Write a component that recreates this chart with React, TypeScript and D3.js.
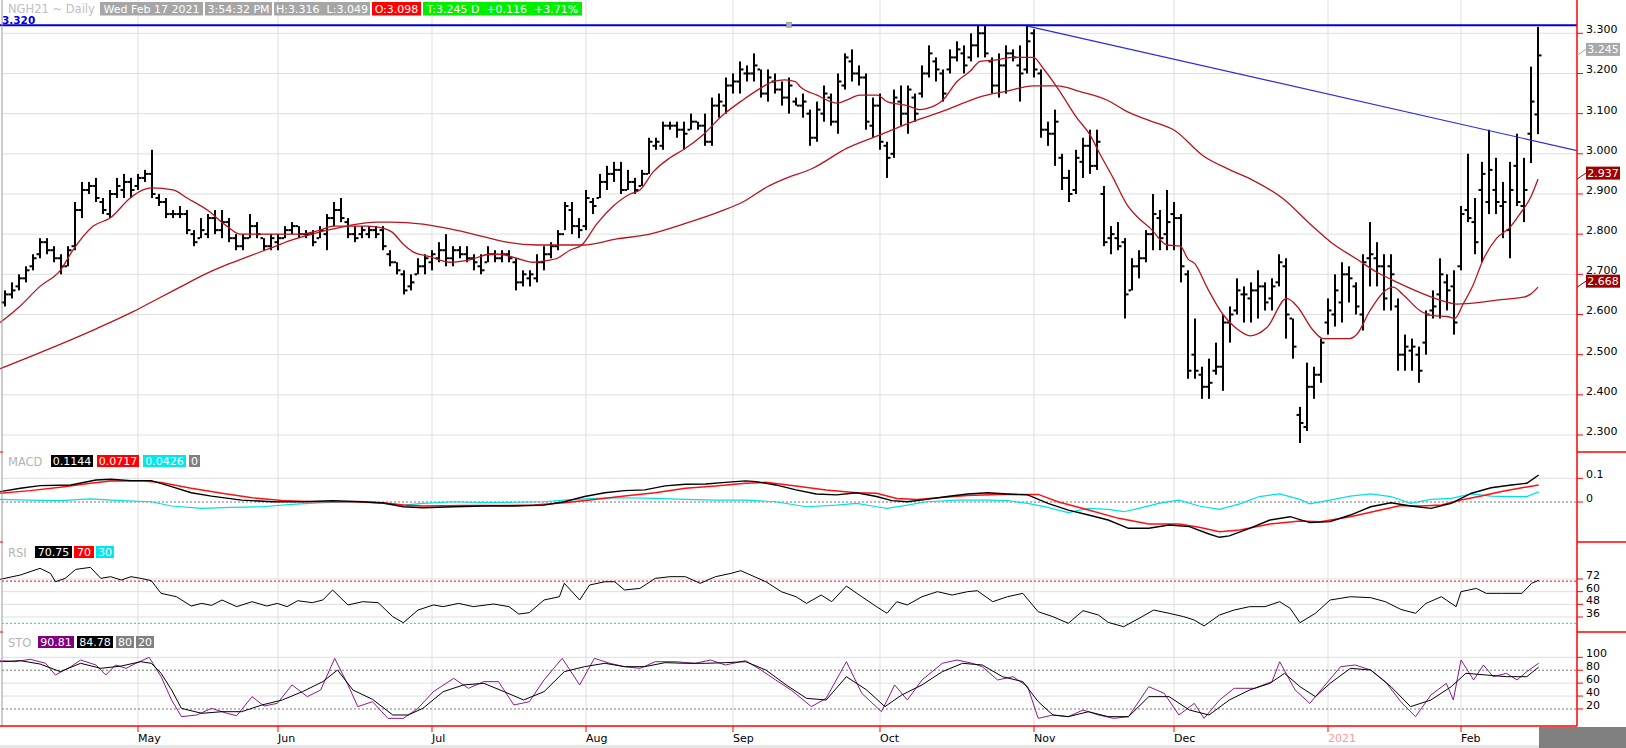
import React from "react";
import * as d3 from "d3";

// ---- price bars (NGH21 daily, Apr 2020 - Feb 17 2021) ----
const highs = [
  2.66, 2.68, 2.7, 2.72, 2.75, 2.79, 2.79, 2.77, 2.75, 2.77,
  2.88, 2.93, 2.93, 2.94, 2.89, 2.91, 2.94, 2.95, 2.94, 2.95,
  2.96, 3.01, 2.9, 2.89, 2.86, 2.87, 2.86, 2.81, 2.84, 2.85,
  2.86, 2.86, 2.84, 2.8, 2.8, 2.85, 2.83, 2.79, 2.8, 2.8,
  2.82, 2.83, 2.82, 2.81, 2.81, 2.82, 2.85, 2.88, 2.89, 2.84,
  2.82, 2.82, 2.82, 2.82, 2.82, 2.76, 2.73, 2.71, 2.7, 2.74,
  2.75, 2.76, 2.78, 2.8, 2.77, 2.77, 2.77, 2.75, 2.75, 2.77,
  2.76, 2.76, 2.76, 2.74, 2.71, 2.71, 2.75, 2.77, 2.78, 2.81,
  2.88, 2.88, 2.84, 2.91, 2.89, 2.95, 2.97, 2.98, 2.98, 2.96,
  2.94, 2.96, 3.04, 3.04, 3.08, 3.08, 3.08, 3.08, 3.1, 3.08,
  3.1, 3.14, 3.15, 3.19, 3.2, 3.23, 3.22, 3.25, 3.21, 3.21,
  3.2, 3.18, 3.19, 3.14, 3.15, 3.11, 3.13, 3.17, 3.15, 3.2,
  3.25, 3.26, 3.22, 3.2, 3.14, 3.15, 3.03, 3.16, 3.17, 3.17,
  3.15, 3.22, 3.27, 3.24, 3.21, 3.26, 3.28, 3.27, 3.3, 3.32,
  3.32, 3.24, 3.25, 3.27, 3.26, 3.27, 3.32, 3.31, 3.21, 3.08,
  3.11, 3.0, 2.96, 3.01, 3.04, 3.06, 3.06, 2.92, 2.82, 2.83,
  2.79, 2.74, 2.76, 2.81, 2.9, 2.86, 2.91, 2.88, 2.85, 2.71,
  2.59, 2.47, 2.49, 2.53, 2.6, 2.62, 2.69, 2.67, 2.68, 2.71,
  2.68, 2.69, 2.75, 2.74, 2.59, 2.37, 2.48, 2.47, 2.54, 2.64,
  2.7, 2.73, 2.72, 2.68, 2.75, 2.83, 2.78, 2.75, 2.75, 2.64,
  2.55, 2.54, 2.52, 2.61, 2.66, 2.74, 2.7, 2.71, 2.87, 3.0,
  2.89, 2.98, 3.06, 2.99, 2.93, 2.98, 3.05, 2.99, 3.217, 3.316,
];
const lows = [
  2.62, 2.64, 2.66, 2.68, 2.71, 2.74, 2.75, 2.73, 2.7, 2.72,
  2.76, 2.84, 2.9, 2.88, 2.85, 2.84, 2.89, 2.89, 2.89, 2.91,
  2.93, 2.89, 2.87, 2.84, 2.84, 2.84, 2.8, 2.77, 2.79, 2.79,
  2.8, 2.79, 2.78, 2.76, 2.76, 2.79, 2.79, 2.76, 2.76, 2.76,
  2.79, 2.8, 2.79, 2.79, 2.77, 2.79, 2.76, 2.82, 2.83, 2.79,
  2.78, 2.79, 2.79, 2.79, 2.76, 2.72, 2.7, 2.65, 2.66, 2.7,
  2.7, 2.71, 2.73, 2.72, 2.72, 2.74, 2.73, 2.71, 2.7, 2.73,
  2.73, 2.73, 2.73, 2.66, 2.67, 2.67, 2.68, 2.71, 2.74, 2.76,
  2.81, 2.8, 2.79, 2.81, 2.85, 2.89, 2.91, 2.93, 2.9, 2.91,
  2.9, 2.92, 2.95, 3.01, 3.01, 3.06, 3.04, 3.01, 3.06, 3.06,
  3.02, 3.02, 3.09, 3.1, 3.15, 3.15, 3.18, 3.18, 3.14, 3.13,
  3.15, 3.12, 3.1, 3.12, 3.09, 3.02, 3.03, 3.08, 3.07, 3.05,
  3.16, 3.18, 3.17, 3.06, 3.04, 3.01, 2.94, 2.99, 3.07, 3.05,
  3.08, 3.14, 3.19, 3.18, 3.13, 3.2, 3.23, 3.2, 3.23, 3.24,
  3.24, 3.15, 3.14, 3.15, 3.23, 3.13, 3.2, 3.19, 3.04, 3.02,
  2.97, 2.91, 2.88, 2.9, 2.94, 2.95, 2.96, 2.77, 2.75, 2.76,
  2.59, 2.66, 2.69, 2.73, 2.76, 2.76, 2.76, 2.76, 2.68, 2.44,
  2.44, 2.39, 2.39, 2.45, 2.41, 2.53, 2.6, 2.58, 2.58, 2.59,
  2.61, 2.61, 2.67, 2.54, 2.49, 2.28, 2.31, 2.39, 2.43, 2.55,
  2.57, 2.58, 2.63, 2.6, 2.56, 2.67, 2.67, 2.61, 2.61, 2.46,
  2.46, 2.46, 2.43, 2.5, 2.59, 2.59, 2.61, 2.55, 2.71, 2.83,
  2.75, 2.73, 2.85, 2.85, 2.79, 2.74, 2.87, 2.83, 2.977, 3.049,
];
const opens = [
  2.63, 2.65, 2.67, 2.69, 2.72, 2.75, 2.78, 2.76, 2.74, 2.72,
  2.77, 2.86, 2.91, 2.92, 2.88, 2.85, 2.9, 2.91, 2.93, 2.92,
  2.94, 2.95, 2.89, 2.88, 2.85, 2.85, 2.85, 2.8, 2.79, 2.8,
  2.84, 2.81, 2.83, 2.79, 2.77, 2.79, 2.82, 2.79, 2.77, 2.78,
  2.79, 2.81, 2.82, 2.8, 2.8, 2.79, 2.8, 2.84, 2.86, 2.83,
  2.8, 2.8, 2.8, 2.81, 2.81, 2.75, 2.73, 2.7, 2.67, 2.7,
  2.72, 2.73, 2.74, 2.76, 2.74, 2.76, 2.75, 2.74, 2.72, 2.73,
  2.75, 2.74, 2.75, 2.73, 2.68, 2.69, 2.69, 2.73, 2.75, 2.77,
  2.8, 2.86, 2.82, 2.82, 2.88, 2.89, 2.93, 2.95, 2.96, 2.91,
  2.93, 2.92, 2.95, 3.02, 3.02, 3.07, 3.07, 3.06, 3.06, 3.08,
  3.07, 3.03, 3.12, 3.12, 3.17, 3.18, 3.2, 3.2, 3.21, 3.15,
  3.18, 3.16, 3.14, 3.13, 3.12, 3.1, 3.04, 3.1, 3.14, 3.08,
  3.17, 3.23, 3.2, 3.19, 3.07, 3.12, 3.02, 3.0, 3.13, 3.1,
  3.14, 3.15, 3.2, 3.23, 3.2, 3.21, 3.24, 3.25, 3.24, 3.27,
  3.3, 3.23, 3.17, 3.22, 3.25, 3.22, 3.21, 3.3, 3.2, 3.06,
  3.05, 2.99, 2.94, 2.91, 2.98, 3.02, 2.97, 2.9, 2.79, 2.79,
  2.78, 2.66, 2.72, 2.74, 2.8, 2.84, 2.8, 2.85, 2.84, 2.7,
  2.5, 2.45, 2.42, 2.46, 2.47, 2.58, 2.61, 2.65, 2.64, 2.66,
  2.67, 2.64, 2.68, 2.72, 2.59, 2.35, 2.32, 2.42, 2.45, 2.58,
  2.6, 2.63, 2.7, 2.67, 2.6, 2.74, 2.74, 2.72, 2.72, 2.62,
  2.5, 2.51, 2.5, 2.53, 2.61, 2.65, 2.68, 2.67, 2.72, 2.86,
  2.83, 2.91, 2.88, 2.91, 2.87, 2.81, 2.97, 2.87, 3.05, 3.098,
];
const closes = [
  2.65, 2.66, 2.69, 2.71, 2.74, 2.78, 2.76, 2.74, 2.72, 2.76,
  2.86, 2.91, 2.92, 2.89, 2.86, 2.9, 2.92, 2.93, 2.91, 2.94,
  2.95, 2.9, 2.88, 2.85, 2.85, 2.85, 2.81, 2.78, 2.81, 2.84,
  2.81, 2.83, 2.79, 2.77, 2.79, 2.82, 2.8, 2.77, 2.79, 2.79,
  2.81, 2.82, 2.8, 2.8, 2.78, 2.81, 2.84, 2.86, 2.84, 2.8,
  2.79, 2.81, 2.81, 2.8, 2.77, 2.73, 2.71, 2.66, 2.68, 2.72,
  2.74, 2.75, 2.76, 2.74, 2.76, 2.75, 2.74, 2.73, 2.71, 2.75,
  2.74, 2.75, 2.74, 2.68, 2.7, 2.7, 2.73, 2.75, 2.77, 2.8,
  2.87, 2.82, 2.81, 2.89, 2.87, 2.93, 2.95, 2.96, 2.91, 2.93,
  2.91, 2.95, 3.03, 3.03, 3.07, 3.07, 3.06, 3.05, 3.08, 3.07,
  3.03, 3.12, 3.13, 3.17, 3.18, 3.21, 3.2, 3.22, 3.15, 3.19,
  3.16, 3.14, 3.17, 3.12, 3.13, 3.04, 3.11, 3.15, 3.08, 3.18,
  3.24, 3.2, 3.19, 3.08, 3.12, 3.03, 2.99, 3.14, 3.1, 3.16,
  3.1, 3.2, 3.25, 3.21, 3.15, 3.24, 3.26, 3.22, 3.27, 3.3,
  3.25, 3.17, 3.22, 3.25, 3.24, 3.2, 3.28, 3.21, 3.06, 3.05,
  3.08, 2.94, 2.9, 2.99, 3.02, 2.97, 3.03, 2.78, 2.8, 2.77,
  2.65, 2.72, 2.74, 2.8, 2.85, 2.79, 2.83, 2.84, 2.72, 2.46,
  2.46, 2.42, 2.43, 2.47, 2.58, 2.6, 2.66, 2.65, 2.66, 2.67,
  2.63, 2.67, 2.73, 2.6, 2.52, 2.33, 2.42, 2.45, 2.53, 2.61,
  2.66, 2.7, 2.69, 2.62, 2.73, 2.75, 2.72, 2.64, 2.7, 2.5,
  2.52, 2.52, 2.46, 2.6, 2.62, 2.7, 2.66, 2.58, 2.85, 2.84,
  2.78, 2.95, 2.96, 2.88, 2.88, 2.91, 2.88, 2.91, 3.13, 3.245,
];

// moving averages, [bar index, value]
const shortMa = [
  [-0.7, 2.58], [2.1, 2.62], [5, 2.67], [7.9, 2.71], [9.7, 2.76], [12.6, 2.82], [15, 2.84],
  [17.9, 2.89], [19.7, 2.91], [21, 2.915], [24, 2.91], [26, 2.89], [28.9, 2.86], [31.7, 2.82],
  [33.6, 2.8], [36.4, 2.8], [39.3, 2.8], [42.1, 2.8], [45, 2.81], [46.9, 2.82], [51.7, 2.82],
  [54, 2.815], [55.3, 2.805], [56.9, 2.775], [58.3, 2.756], [60.7, 2.744], [63.6, 2.73],
  [66.4, 2.736], [69.3, 2.75], [70.7, 2.75], [73.1, 2.74], [75.4, 2.73], [76.9, 2.733],
  [78.9, 2.74], [80.7, 2.76], [82.4, 2.773], [84.6, 2.827], [86.9, 2.87], [89.3, 2.9],
  [90.7, 2.91], [92.6, 2.955], [95, 2.99], [96.9, 3.01], [99.7, 3.047], [102.6, 3.097],
  [105.4, 3.134], [107.9, 3.163], [109.7, 3.18], [111.4, 3.184], [112.9, 3.18], [113.6, 3.167],
  [116, 3.146], [118.9, 3.126], [120.3, 3.134], [122.1, 3.146], [124.6, 3.146], [126, 3.13],
  [128.9, 3.12], [130.7, 3.11], [132.1, 3.115], [134, 3.134], [136, 3.18], [137.9, 3.206],
  [139.3, 3.23], [141.7, 3.234], [144, 3.24], [146.9, 3.24], [148.3, 3.213], [150.7, 3.155],
  [153.1, 3.09], [155, 3.047], [156.4, 3.0], [158.3, 2.94], [160.3, 2.873], [161.7, 2.844],
  [163.6, 2.815], [166, 2.773], [167.9, 2.77], [169, 2.738], [170, 2.726], [171.7, 2.668],
  [174, 2.6], [176, 2.564], [177.9, 2.547], [180.3, 2.568], [183.1, 2.64], [184.6, 2.62],
  [186.9, 2.56], [188.3, 2.54], [192.1, 2.54], [193.1, 2.55], [195, 2.61], [196.9, 2.655],
  [198.3, 2.668], [199.7, 2.65], [202.1, 2.61], [204, 2.597], [206, 2.595], [207.1, 2.59],
  [208.3, 2.626], [209.7, 2.672], [211.1, 2.734], [213.1, 2.79], [215, 2.817], [216.4, 2.85],
  [217.9, 2.89], [219, 2.937],
];
const longMa = [
  [-0.7, 2.465], [6.4, 2.515], [13.1, 2.565], [18.3, 2.607], [21.7, 2.638], [25, 2.668],
  [28.3, 2.698], [31.7, 2.724], [35, 2.746], [37.9, 2.765], [40.7, 2.784], [43.6, 2.799],
  [46.9, 2.813], [49.3, 2.822], [53.1, 2.83], [55, 2.83], [59.7, 2.825], [63.6, 2.813],
  [68.3, 2.794], [71.7, 2.78], [76, 2.773], [79.7, 2.773], [82.6, 2.773], [87.4, 2.788],
  [92.1, 2.8], [96.9, 2.825], [102.1, 2.856], [105.4, 2.88], [108.9, 2.918], [111.4, 2.938],
  [115.4, 2.964], [120.3, 3.014], [125, 3.047], [129.7, 3.08], [134.6, 3.11], [139.3, 3.142],
  [143.1, 3.156], [146.9, 3.169], [150.3, 3.169], [153.6, 3.155], [157.4, 3.134],
  [160.3, 3.105], [163.6, 3.082], [167.1, 3.058], [171.1, 2.996], [175, 2.96], [178.3, 2.934],
  [182.6, 2.888], [186.4, 2.826], [189.7, 2.776], [193.1, 2.738], [196, 2.705], [198.9, 2.68],
  [202.1, 2.655], [205, 2.636], [207.4, 2.626], [210.7, 2.63], [213.1, 2.636], [216.9, 2.643],
  [217.9, 2.65], [219, 2.668],
];
const trendLine = [[146.1, 3.318], [224.6, 3.008]];
const resistance = 3.32;

// MACD panel
const macdLine = [
  [-0.7, 0.044], [2.2, 0.058], [5, 0.069], [9.4, 0.072], [13, 0.093], [15.1, 0.096], [18, 0.09],
  [20.9, 0.09], [23.8, 0.065], [26.6, 0.039], [29.5, 0.025], [33.8, 0.008], [38.2, 0.001],
  [42.5, 0.001], [46.8, 0.006], [51.1, 0.001], [54, -0.004], [56.9, -0.02], [59.7, -0.024],
  [64.1, -0.02], [68.4, -0.017], [72.7, -0.017], [77, -0.013], [79.9, 0.001], [82.8, 0.023],
  [85.7, 0.039], [88.5, 0.048], [91.4, 0.051], [94.3, 0.068], [97.2, 0.075], [100.1, 0.076],
  [102.9, 0.083], [105.8, 0.089], [107.3, 0.086], [110.1, 0.072], [113, 0.051], [115.9, 0.034],
  [118.8, 0.03], [121.7, 0.039], [124.5, 0.023], [126.7, 0.006], [128.9, 0.001], [131.7, 0.011],
  [134.6, 0.023], [137.5, 0.034], [140.4, 0.039], [143.2, 0.034], [146.1, 0.03], [149, -0.006],
  [151.9, -0.034], [154.8, -0.055], [157.6, -0.076], [160.5, -0.111], [163.4, -0.111],
  [166.3, -0.097], [169.2, -0.104], [172, -0.135], [173.5, -0.149], [174.9, -0.143],
  [177.8, -0.111], [180.7, -0.076], [183.6, -0.062], [186.4, -0.087], [189.3, -0.083],
  [192.2, -0.055], [195.1, -0.02], [198, -0.003], [200.8, -0.017], [203.7, -0.027],
  [206.6, -0.006], [209.5, 0.037], [212.3, 0.06], [215.2, 0.072], [217.4, 0.079], [219.1, 0.114],
];
const macdSignal = [
  [-0.7, 0.037], [3.6, 0.048], [7.9, 0.062], [12.2, 0.079], [15.1, 0.089], [19.4, 0.09],
  [22.3, 0.082], [26.6, 0.058], [31, 0.037], [35.3, 0.018], [39.6, 0.006], [43.9, 0.001],
  [49.7, 0.001], [54, -0.003], [56.9, -0.013], [59.7, -0.017], [65.5, -0.015], [71.3, -0.015],
  [75.6, -0.013], [79.9, -0.003], [84.2, 0.011], [88.5, 0.025], [92.9, 0.039], [97.2, 0.058],
  [101.5, 0.068], [105.8, 0.079], [108.7, 0.083], [113, 0.068], [117.3, 0.051], [121.7, 0.039],
  [124.5, 0.037], [127.4, 0.015], [130.3, 0.011], [133.2, 0.018], [137.5, 0.027], [141.8, 0.032],
  [147.6, 0.032], [150.4, 0.001], [154.8, -0.034], [159.1, -0.069], [163.4, -0.093],
  [167.7, -0.093], [170.6, -0.107], [173.5, -0.125], [176.4, -0.118], [180.7, -0.093],
  [185, -0.08], [187.9, -0.083], [192.2, -0.062], [196.5, -0.034], [199.4, -0.015],
  [202.3, -0.017], [205.2, -0.013], [208, 0.008], [210.9, 0.025], [213.8, 0.044], [216.7, 0.06],
  [219.1, 0.0717],
];
const macdDiff = [
  [-0.7, 0.011], [3.6, 0.008], [7.9, 0.006], [12.2, 0.013], [16.6, 0.006], [20.9, 0.001],
  [23.8, -0.017], [28.1, -0.027], [32.4, -0.023], [36.7, -0.02], [41, -0.01], [45.4, -0.003],
  [49.7, 0], [54, -0.006], [56.9, -0.013], [59.7, -0.006], [64.1, 0.001], [68.4, -0.003],
  [72.7, -0.001], [77, 0.001], [79.9, 0.008], [84.2, 0.015], [88.5, 0.018], [92.9, 0.015],
  [97.2, 0.011], [101.5, 0.008], [105.8, 0.008], [110.1, 0.001], [114.5, -0.02], [118.8, -0.013],
  [121.7, -0.006], [124.5, -0.02], [126, -0.027], [128.9, -0.013], [131.7, 0.001], [136, 0.008],
  [140.4, 0.008], [143.2, 0.006], [146.1, -0.006], [149, -0.023], [151.9, -0.045],
  [154.8, -0.027], [157.6, -0.031], [159.8, -0.041], [162, -0.027], [164.8, -0.006],
  [167.7, 0.008], [170.6, -0.017], [173.5, -0.031], [176.4, -0.008], [179.2, 0.023],
  [182.1, 0.034], [185, 0.011], [186.4, -0.008], [189.3, 0.008], [192.2, 0.025], [195.1, 0.034],
  [198, 0.023], [200.8, -0.006], [203.7, 0.011], [206.6, 0.015], [209.5, 0.034], [212.3, 0.025],
  [215.2, 0.023], [217.4, 0.023], [219.1, 0.0426],
];

// RSI panel
const rsiLine = [
  [-0.7, 71.7], [2.2, 75.8], [5, 82.1], [6.5, 77.3], [7.2, 69.4], [8.6, 72.6], [10.1, 81.1],
  [12.2, 83], [13.7, 72.6], [15.1, 74.2], [16.6, 71], [18, 74.2], [19.4, 72.6], [20.9, 70.4],
  [22.3, 58.4], [24.5, 55.2], [26.6, 46.4], [28.1, 48.9], [29.5, 47], [31, 52.1], [33.1, 45.8],
  [35.3, 50.5], [37.4, 46.4], [38.9, 48.9], [40.3, 45.8], [41.8, 51.4], [43.9, 49.6],
  [45.4, 52.1], [46.8, 61.6], [49, 47.4], [51.1, 50.5], [53.3, 49.6], [55.4, 36.3], [56.9, 30.6],
  [59, 42.6], [61.2, 47.4], [62.6, 45.8], [64.8, 48.9], [66.9, 45.8], [69.8, 48.3], [72, 45.8],
  [73.4, 38.8], [74.9, 40.1], [77, 52.1], [79.2, 55.2], [79.9, 67.9], [82.1, 52.1], [83.5, 66.3],
  [85.7, 69.4], [87.1, 69.4], [88.5, 61.6], [90.7, 63.1], [92.9, 72.6], [95, 74.2], [97.2, 74.2],
  [99.3, 67.9], [101.5, 74.2], [103.7, 77.3], [105.1, 79.9], [106.5, 75.8], [108.7, 69.4],
  [110.9, 60], [113, 55.2], [114.5, 48.9], [116.6, 56.8], [118.1, 50.5], [120.2, 65.3],
  [122.4, 55.2], [124.5, 45.8], [126, 39.5], [127.4, 50.5], [128.9, 47.4], [131, 55.2],
  [133.2, 60], [135.3, 56.8], [137.5, 60], [138.9, 60.9], [141.1, 50.5], [143.2, 55.2],
  [145.4, 58.4], [147.6, 41], [149.7, 36.3], [151.9, 30], [154, 42], [156.2, 37.9], [157.6, 30.9],
  [159.8, 26.8], [162, 34.7], [164.1, 42.6], [166.3, 39.5], [168.4, 36.3], [169.9, 33.1],
  [171.3, 27.5], [173.5, 37.9], [175.6, 42.6], [177.8, 45.8], [180, 45.8], [182.1, 50.5],
  [183.6, 44.2], [185, 30.6], [187.2, 39.5], [189.3, 52.1], [192.2, 55.2], [195.1, 54.3],
  [197.2, 50.5], [199.4, 43.2], [201.5, 39.5], [203, 48.9], [205.2, 55.2], [207.3, 45.8],
  [208, 60], [210.2, 63.1], [211.6, 58.4], [213.8, 58.4], [216.7, 58.4], [218.1, 67.9],
  [219.1, 70.75],
];

// Stochastics panel
const stoK = [
  [-0.7, 94.8], [1.4, 93.2], [3.6, 96.9], [5.8, 90.7], [7.2, 72.6], [9.4, 85.5], [10.8, 95.8],
  [13, 88.1], [14.4, 72.6], [15.8, 88.1], [17.3, 82.9], [18.7, 90.7], [20.6, 100], [22.3, 70],
  [23.8, 33.9], [25.2, 8.1], [27.4, 10.7], [29.5, 21], [31.7, 13.3], [33.1, 9.6], [35.3, 39.1],
  [37, 24.6], [38.9, 28.7], [41, 57.2], [43.2, 39.1], [45.1, 49.4], [47.1, 98.4], [49, 57.2],
  [50.4, 23.6], [52.5, 31.3], [54.7, 5.5], [56.9, 5.5], [59, 21], [61.2, 46.8], [64.1, 67.4],
  [66.2, 52], [68.4, 62.3], [70.5, 62.3], [72.7, 26.2], [74.9, 31.3], [77, 64.9], [79.6, 98.4],
  [82.1, 57.2], [84.2, 98.4], [86.4, 90.7], [88.5, 85.5], [90.7, 82.9], [92.9, 93.2],
  [95.7, 93.2], [98.6, 90.7], [100.8, 95.8], [102.9, 88.1], [105.8, 94.8], [108, 80.3],
  [110.1, 64.9], [112.3, 49.4], [115.2, 23.6], [117.3, 36.5], [120.2, 93.2], [122.4, 44.2],
  [125.2, 15.8], [127.1, 57.2], [128.9, 33.9], [131, 64.9], [133.9, 90.7], [136, 95.8],
  [138.2, 90.7], [139.6, 85.5], [141.8, 64.9], [144, 70], [146.1, 54.5], [147.6, 5.5],
  [149.7, 10.7], [151.9, 8.1], [154, 18.4], [156.2, 10.7], [158.4, 5.5], [160.5, 8.1],
  [163.4, 54.5], [165.6, 44.2], [167.7, 10.7], [169.9, 28.7], [171.3, 5.5], [173.5, 33.9],
  [175.6, 52], [178.5, 52], [181, 62.3], [182.1, 93.2], [184.3, 49.4], [186.4, 28.7],
  [188.6, 57.2], [190.8, 85.5], [192.9, 88.1], [195.1, 80.3], [197.2, 62.3], [199.4, 31.3],
  [201.5, 8.1], [203.7, 41.6], [205.9, 59.7], [206.9, 33.9], [208, 95.8], [209.8, 64.9],
  [211.2, 88.1], [212.6, 70], [214.5, 75.2], [216, 64.9], [217.4, 77.8], [219.1, 90.81],
];
const stoD = [
  [-0.7, 93.2], [2.2, 94.8], [5, 89.6], [7.9, 77.8], [10.8, 90.7], [13.7, 82.9], [16.6, 86.5],
  [19.4, 93.2], [20.9, 90.7], [22.3, 75.2], [23.8, 49.4], [25.2, 21], [28.1, 13.3], [31, 15.8],
  [33.8, 15.8], [36.7, 26.2], [39.6, 33.9], [42.5, 46.8], [45.4, 62.3], [47.5, 80.3],
  [49.7, 49.4], [52.5, 34.9], [55.4, 10.7], [57.6, 10.7], [59.7, 21], [62.6, 46.8], [65.5, 57.2],
  [68.4, 59.7], [71.3, 46.8], [74.1, 33.9], [77, 46.8], [79.9, 77.8], [82.8, 85.5], [85.7, 90.7],
  [88.5, 85.5], [91.4, 85.5], [94.3, 91.7], [97.2, 90.7], [100.1, 90.7], [102.9, 91.7],
  [105.8, 93.2], [108.7, 80.3], [111.6, 57.2], [114.5, 36.5], [117.3, 33.9], [120.2, 70],
  [123.1, 49.4], [125.7, 23.6], [128.1, 41.6], [131, 57.2], [133.9, 77.8], [136.8, 90.7],
  [139.6, 88.1], [142.5, 70], [145.4, 62.3], [147.6, 31.3], [149.7, 10.7], [151.9, 8.1],
  [154.8, 15.8], [157.6, 8.1], [160.5, 8.1], [163.4, 39.1], [166.3, 39.1], [169.2, 18.4],
  [172, 10.7], [174.9, 33.9], [177.8, 49.4], [180.7, 59.7], [182.8, 75.2], [185, 54.5],
  [187.2, 39.1], [189.3, 59.7], [192.2, 82.9], [195.1, 80.3], [198, 54.5], [200.8, 23.6],
  [203.7, 33.9], [206.6, 54.5], [208.7, 75.2], [211.6, 72.6], [214.5, 70], [217.4, 70],
  [219.1, 84.78],
];

// axes
const priceTicks = [3.3, 3.2, 3.1, 3.0, 2.9, 2.8, 2.7, 2.6, 2.5, 2.4, 2.3];
const macdTicks = [0.1, 0];
const rsiTicks = [72, 60, 48, 36];
const stoTicks = [100, 80, 60, 40, 20];
const monthLabels = ["May", "Jun", "Jul", "Aug", "Sep", "Oct", "Nov", "Dec", "2021", "Feb"];
const monthStarts = [19, 39, 61, 83, 104, 125, 147, 167, 189, 208];

const FONT = "DejaVu Sans";
const W = 1626;
const H = 748;
const AXIS_X = 1577;
const BOTTOM = 726;

const x = d3.scaleLinear().domain([0, 219]).range([5, 1538]);
const yPrice = d3.scaleLinear().domain([2.3, 3.3]).range([435, 33.3]);
const yMacd = d3.scaleLinear().domain([0, 0.1]).range([502, 478.3]);
const yRsi = d3.scaleLinear().domain([36, 72]).range([617, 579]);
const ySto = d3.scaleLinear().domain([0, 100]).range([721.9, 657.3]);

const mkLine = (ys: d3.ScaleLinear<number, number>) =>
  d3
    .line<number[]>()
    .x((d) => x(d[0]))
    .y((d) => ys(d[1]));

function Box({ x0, y0, w, h, fill, text, color = "#fff" }: any) {
  return (
    <g>
      <rect x={x0} y={y0} width={w} height={h} fill={fill} />
      <text x={x0 + w / 2} y={y0 + h - 2.5} textAnchor="middle" fill={color} fontSize={11} fontFamily={FONT} style={{ whiteSpace: "pre" }}>
        {text}
      </text>
    </g>
  );
}

export default function App() {
  const priceLine = mkLine(yPrice).curve(d3.curveMonotoneX);
  const macdGen = mkLine(yMacd);
  const rsiGen = mkLine(yRsi);
  const stoGen = mkLine(ySto);

  const grid = "#dedede";

  return (
    <div style={{ position: "fixed", left: 0, top: 0 }}>
      <svg width={W} height={H} style={{ display: "block", background: "#fff" }}>
        <defs>
          <clipPath id="plot">
            <rect x={0} y={0} width={AXIS_X} height={BOTTOM} />
          </clipPath>
        </defs>

        {/* vertical month grid */}
        {monthStarts.map((m) => (
          <line key={"vg" + m} x1={x(m)} x2={x(m)} y1={0} y2={BOTTOM} stroke={grid} />
        ))}

        {/* price grid */}
        {priceTicks.map((t) => (
          <line key={"pg" + t} x1={2} x2={AXIS_X} y1={yPrice(t)} y2={yPrice(t)} stroke={grid} />
        ))}
        {/* MACD grid */}
        <line x1={2} x2={AXIS_X} y1={yMacd(0.1)} y2={yMacd(0.1)} stroke={grid} />
        <line x1={2} x2={AXIS_X} y1={yMacd(0)} y2={yMacd(0)} stroke="#777" strokeDasharray="2,2" />
        {/* RSI grid */}
        {rsiTicks.map((t) => (
          <line key={"rg" + t} x1={2} x2={AXIS_X} y1={yRsi(t)} y2={yRsi(t)} stroke={grid} />
        ))}
        <line x1={2} x2={AXIS_X} y1={yRsi(70)} y2={yRsi(70)} stroke="#ff0000" strokeDasharray="2,2" />
        <line x1={2} x2={AXIS_X} y1={yRsi(30)} y2={yRsi(30)} stroke="#00d8d8" strokeDasharray="2,2" />
        {/* STO grid */}
        {[100, 60, 40].map((t) => (
          <line key={"sg" + t} x1={2} x2={AXIS_X} y1={ySto(t)} y2={ySto(t)} stroke={grid} />
        ))}
        {[80, 20].map((t) => (
          <line key={"sd" + t} x1={2} x2={AXIS_X} y1={ySto(t)} y2={ySto(t)} stroke="#777" strokeDasharray="2,2" />
        ))}

        <g clipPath="url(#plot)">
          {/* price bars */}
          {highs.map((hi, i) => {
            const cx = x(i);
            const yh = yPrice(hi);
            const yl = yPrice(lows[i]);
            return (
              <g key={"b" + i} fill="#000">
                <rect x={cx - 1} y={yh} width={2} height={Math.max(1, yl - yh)} />
                <rect x={cx - 3.5} y={yPrice(opens[i]) - 1} width={2.5} height={2} />
                <rect x={cx + 1} y={yPrice(closes[i]) - 1} width={2.5} height={2} />
              </g>
            );
          })}

          {/* moving averages */}
          <path d={priceLine(longMa) || ""} fill="none" stroke="#b8141c" strokeWidth={1.3} />
          <path d={priceLine(shortMa) || ""} fill="none" stroke="#b8141c" strokeWidth={1.3} />

          {/* resistance + trend line */}
          <line x1={0} x2={AXIS_X} y1={yPrice(resistance)} y2={yPrice(resistance)} stroke="#0000dd" strokeWidth={2} />
          <line
            x1={x(trendLine[0][0])}
            y1={yPrice(trendLine[0][1])}
            x2={x(trendLine[1][0])}
            y2={yPrice(trendLine[1][1])}
            stroke="#2a2ae0"
            strokeWidth={1.2}
          />
          <rect x={x(112) - 2.5} y={yPrice(resistance) - 3} width={5} height={5} fill="#b0b0b0" stroke="#888" strokeWidth={0.6} />

          {/* MACD */}
          <path d={macdGen(macdDiff) || ""} fill="none" stroke="#00e0e8" strokeWidth={1.2} />
          <path d={macdGen(macdSignal) || ""} fill="none" stroke="#ff1010" strokeWidth={1.5} />
          <path d={macdGen(macdLine) || ""} fill="none" stroke="#000" strokeWidth={1.4} />

          {/* RSI */}
          <path d={rsiGen(rsiLine) || ""} fill="none" stroke="#000" strokeWidth={1} />

          {/* STO */}
          <path d={stoGen(stoK) || ""} fill="none" stroke="#8b1a8b" strokeWidth={1} />
          <path d={stoGen(stoD) || ""} fill="none" stroke="#000" strokeWidth={1} />
        </g>

        {/* frame */}
        <line x1={2} x2={2} y1={0} y2={BOTTOM} stroke="#9a9a9a" />
        <line x1={AXIS_X} x2={AXIS_X} y1={0} y2={BOTTOM} stroke="#ff0000" strokeWidth={1.5} />
        <line x1={0} x2={AXIS_X} y1={BOTTOM} y2={BOTTOM} stroke="#ff0000" strokeWidth={1.5} />
        {[452, 542, 632].map((s) => (
          <g key={"sep" + s}>
            <line x1={AXIS_X} x2={W} y1={s} y2={s} stroke="#ff0000" strokeWidth={1.5} />
            <line x1={0} x2={3} y1={s} y2={s} stroke="#ff0000" />
          </g>
        ))}

        {/* right axis ticks and labels */}
        {priceTicks.map((t) => (
          <g key={"pt" + t}>
            <line x1={AXIS_X} x2={AXIS_X + 6} y1={yPrice(t)} y2={yPrice(t)} stroke="#ff0000" />
            <text x={1586} y={yPrice(t)} fontSize={11} fontFamily={FONT} fill="#000">
              {t.toFixed(3)}
            </text>
          </g>
        ))}
        {macdTicks.map((t) => (
          <g key={"mt" + t}>
            <line x1={AXIS_X} x2={AXIS_X + 6} y1={yMacd(t)} y2={yMacd(t)} stroke="#ff0000" />
            <text x={1586} y={yMacd(t)} fontSize={11} fontFamily={FONT} fill="#000">
              {String(t)}
            </text>
          </g>
        ))}
        {rsiTicks.map((t) => (
          <g key={"rt" + t}>
            <line x1={AXIS_X} x2={AXIS_X + 6} y1={yRsi(t)} y2={yRsi(t)} stroke="#ff0000" />
            <text x={1586} y={yRsi(t)} fontSize={11} fontFamily={FONT} fill="#000">
              {String(t)}
            </text>
          </g>
        ))}
        {stoTicks.map((t) => (
          <g key={"st" + t}>
            <line x1={AXIS_X} x2={AXIS_X + 6} y1={ySto(t)} y2={ySto(t)} stroke="#ff0000" />
            <text x={1586} y={ySto(t)} fontSize={11} fontFamily={FONT} fill="#000">
              {String(t)}
            </text>
          </g>
        ))}

        {/* last-value flags */}
        {[
          { v: closes[closes.length - 1], fill: "#a8a8a8", txt: "3.245" },
          { v: 2.937, fill: "#9e0000", txt: "2.937" },
          { v: 2.668, fill: "#9e0000", txt: "2.668" },
        ].map((f) => (
          <g key={"flag" + f.txt}>
            <line x1={AXIS_X} y1={yPrice(f.v)} x2={1586} y2={yPrice(f.v) - 6} stroke={f.fill} />
            <Box x0={1586} y0={yPrice(f.v) - 12.5} w={34} h={13} fill={f.fill} text={f.txt} />
          </g>
        ))}

        {/* x axis */}
        {monthStarts.map((m, k) => (
          <g key={"xm" + m}>
            <line x1={x(m)} x2={x(m)} y1={BOTTOM} y2={BOTTOM + 6} stroke="#ff0000" />
            <text x={x(m)} y={742} fontSize={11} fontFamily={FONT} fill={monthLabels[k] === "2021" ? "#ff9a9a" : "#000"}>
              {monthLabels[k]}
            </text>
          </g>
        ))}
        <rect x={0} y={745} width={1539} height={3} fill="#e6e6e6" />
        <rect x={1539} y={727} width={W - 1539} height={21} fill="#808080" />

        {/* header */}
        <text x={8} y={12.5} fontSize={11.5} fontFamily={FONT} fill="#c0c0c0">
          NGH21 ~ Daily
        </text>
        <Box x0={100} y0={2} w={103} h={13.5} fill="#a6a6a6" text="Wed Feb 17 2021" />
        <Box x0={205} y0={2} w={67} h={13.5} fill="#a6a6a6" text="3:54:32 PM" />
        <Box x0={274} y0={2} w={96} h={13.5} fill="#a6a6a6" text={"H:3.316  L:3.049"} />
        <Box x0={372} y0={2} w={49} h={13.5} fill="#ff0000" text="O:3.098" />
        <Box x0={423} y0={2} w={159} h={13.5} fill="#00ee00" text={"T:3.245 D  +0.116  +3.71%"} />
        <text x={2} y={23.5} fontSize={10.5} fontWeight="bold" fontFamily={FONT} fill="#0000dd">
          3.320
        </text>

        {/* indicator legends */}
        <text x={8} y={466} fontSize={11.5} fontFamily={FONT} fill="#b4b4b4">MACD</text>
        <Box x0={51} y0={455} w={42} h={12} fill="#000" text="0.1144" />
        <Box x0={97} y0={455} w={42} h={12} fill="#ff0000" text="0.0717" />
        <Box x0={143} y0={455} w={43} h={12} fill="#00e8ee" text="0.0426" />
        <Box x0={189} y0={455} w={11} h={12} fill="#808080" text="0" />

        <text x={8} y={557} fontSize={11.5} fontFamily={FONT} fill="#b4b4b4">RSI</text>
        <Box x0={35} y0={546} w={37} h={12} fill="#000" text="70.75" />
        <Box x0={74} y0={546} w={20} h={12} fill="#ff0000" text="70" />
        <Box x0={96} y0={546} w={18} h={12} fill="#00e8ee" text="30" />

        <text x={8} y={647} fontSize={11.5} fontFamily={FONT} fill="#b4b4b4">STO</text>
        <Box x0={38} y0={636} w={36} h={12} fill="#800080" text="90.81" />
        <Box x0={77} y0={636} w={36} h={12} fill="#000" text="84.78" />
        <Box x0={116} y0={636} w={18} h={12} fill="#808080" text="80" />
        <Box x0={136} y0={636} w={18} h={12} fill="#808080" text="20" />
      </svg>
    </div>
  );
}
